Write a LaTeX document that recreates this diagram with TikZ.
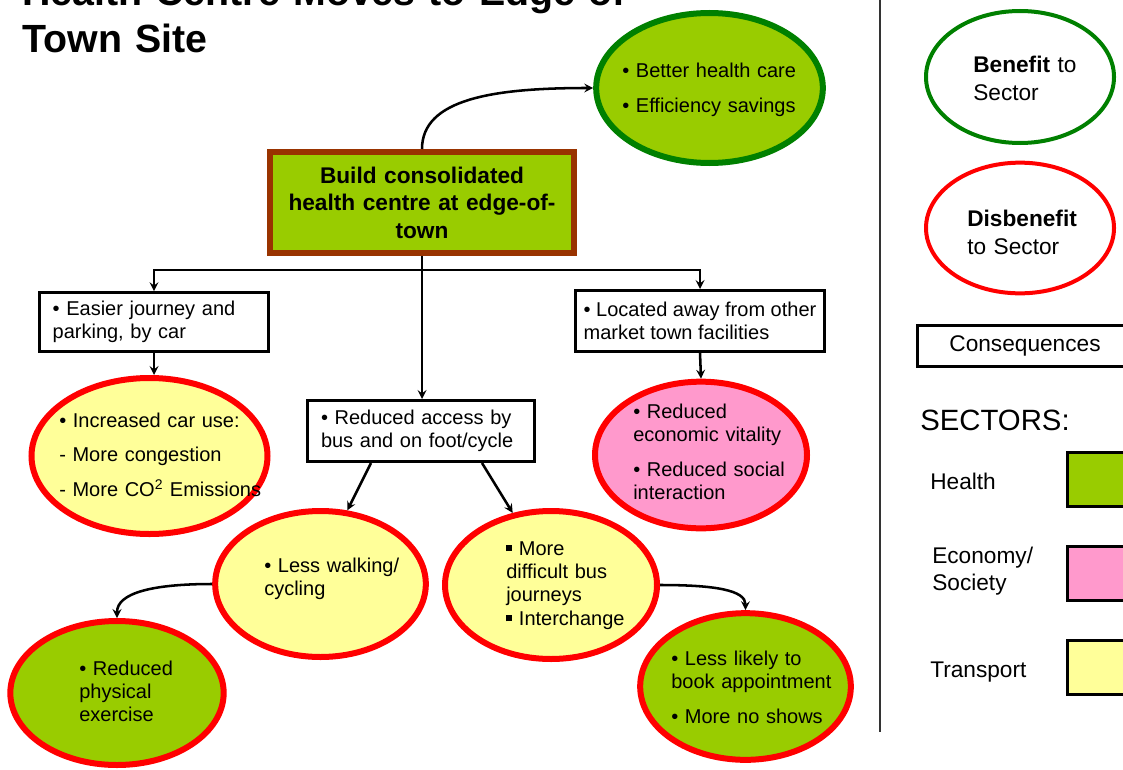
\documentclass[tikz,border=0pt]{standalone}
\usepackage{fontspec}
\setmainfont{Liberation Sans}
\usetikzlibrary{shapes.geometric,calc}

\definecolor{hgreen}{HTML}{99CC00}
\definecolor{bgreen}{HTML}{008000}
\definecolor{dred}{HTML}{FF0000}
\definecolor{tyellow}{HTML}{FFFF99}
\definecolor{epink}{HTML}{FF99CC}
\definecolor{hbrown}{HTML}{993300}

\newcommand{\bodyfont}{\fontsize{15}{17.6}\selectfont}
\newcommand{\keyfont}{\fontsize{17}{21}\selectfont}
\newcommand{\sqbullet}{\rule[0.2em]{0.3em}{0.3em}}

\tikzstyle{conseq} = [rectangle, draw=black, line width=2.25pt, fill=white, inner xsep=10pt, inner ysep=0pt, align=left, font=\bodyfont]
\tikzstyle{benefit} = [ellipse, draw=bgreen, line width=4.5pt, inner sep=0pt]
\tikzstyle{disben} = [ellipse, draw=dred, line width=4.5pt, inner sep=0pt]
\tikzstyle{txt} = [anchor=base west, inner sep=0pt, align=left, text width=200pt, font=\bodyfont]
\tikzstyle{keytxt} = [anchor=base west, inner sep=0pt, align=left, text width=120pt, font=\keyfont]
\tikzstyle{swatch} = [rectangle, draw=black, line width=2.25pt, minimum width=52pt, minimum height=40.5pt]
\tikzstyle{arrow} = [line width=1.9pt,->,>=stealth]

\begin{document}
\begin{tikzpicture}[x=0.75pt,y=-0.75pt]
	\useasboundingbox (0,0) rectangle (1123,770);
	% title
	\node (title) at (22,6) [anchor=base west, inner sep=0pt, align=left, text width=700pt, font=\fontsize{29.5}{35}\selectfont\bfseries] {Health Centre Moves to Edge-of\\Town Site};

	% option and its consequences
	\node (hc) at (422,202.5) [rectangle, draw=hbrown, line width=4.5pt, fill=hgreen, minimum width=228pt, minimum height=75.75pt, inner sep=0pt, align=center, text width=215pt, font=\fontsize{17}{20.6}\selectfont\bfseries] {Build consolidated\\health centre at edge-of-\\town};
	\node (easy) at (154,322) [conseq, text width=152pt, minimum height=44pt] {• Easier journey and\\parking, by car};
	\node (away) at (700,321) [conseq, inner xsep=4pt, minimum width=187pt, minimum height=45.75pt] {• Located away from other\\market town facilities};
	\node (access) at (421,431) [conseq, text width=150pt, minimum height=45.75pt] {• Reduced access by\\bus and on foot/cycle};

	% impacts
	\node (better) at (709.5,88) [benefit, fill=hgreen, minimum width=170pt, minimum height=112.5pt] {};
	\node (better-t) at (622,78) [txt] {• Better health care\\[8.5pt]• Efficiency savings};
	\node (caruse) at (149.5,456) [disben, fill=tyellow, minimum width=177pt, minimum height=117pt] {};
	\node (caruse-t) at (59,427) [txt] {• Increased car use:\\[8.5pt]- More congestion\\[8.5pt]- More CO\textsuperscript{2} Emissions};
	\node (econ) at (701,455) [disben, fill=epink, minimum width=159pt, minimum height=110pt] {};
	\node (econ-t) at (633,418) [txt] {• Reduced\\economic vitality\\[8.5pt]• Reduced social\\interaction};
	\node (walking) at (320.5,584) [disben, fill=tyellow, minimum width=158pt, minimum height=109.5pt] {};
	\node (walking-t) at (264,572) [txt] {• Less walking/\\cycling};
	\node (busjourney) at (551,585) [disben, fill=tyellow, minimum width=159pt, minimum height=111pt] {};
	\node (busjourney-t) at (506,555) [txt] {\sqbullet{} More\\difficult bus\\journeys\\\sqbullet{} Interchange};
	\node (exercise) at (117,693) [disben, fill=hgreen, minimum width=160pt, minimum height=108pt] {};
	\node (exercise-t) at (79,675) [txt] {• Reduced\\physical\\exercise};
	\node (appoint) at (745.5,686.5) [disben, fill=hgreen, minimum width=158pt, minimum height=110pt] {};
	\node (appoint-t) at (671,665) [txt] {• Less likely to\\book appointment\\[8.5pt]• More no shows};

	% connectors
	\coordinate (split) at (hc.south |- 0,270);
	\draw[arrow] (hc.north) .. controls +(0,-50) and +(-100,0) .. (better.west);
	\draw[arrow] (hc.south) -- (hc.south |- access.north);
	\draw[arrow] (split) -| (easy.north);
	\draw[arrow] (split) -| (away.north);
	\draw[arrow] (easy.south) -- (easy.south |- caruse.north);
	\draw[arrow] (away.south) -- (econ.north);
	\draw[arrow] ($(access.south)+(-50,0)$) -- (walking.70);
	\draw[arrow] ($(access.south)+(61,0)$) -- (busjourney.118);
	\draw[arrow] (walking.west) .. controls +(-60,0) and +(0,-25) .. (exercise.north);
	\draw[arrow] (busjourney.east) .. controls +(55,0) and +(0,-20) .. (appoint.north);

	% key
	\draw[line width=1.5pt, black!80] (880,-5) -- (880,732);
	\node (keyben) at (1020,77) [ellipse, draw=bgreen, line width=3pt, fill=white, minimum width=141pt, minimum height=99pt, inner sep=0pt] {};
	\node (keyben-t) at (973,73) [keytxt] {\textbf{Benefit} to\\Sector};
	\node (keydis) at (1020,228) [ellipse, draw=dred, line width=3pt, fill=white, minimum width=141pt, minimum height=98pt, inner sep=0pt] {};
	\node (keydis-t) at (967,226) [keytxt] {\textbf{Disbenefit}\\to Sector};
	\node (keycons) at (1025,346) [rectangle, draw=black, line width=2.25pt, minimum width=161pt, minimum height=31pt, font=\keyfont] {Consequences};
	\node (sectors) at (920,430) [anchor=base west, inner sep=0pt, font=\fontsize{22}{26}\selectfont] {SECTORS:};
	\node (health) at (930,489) [keytxt] {Health};
	\node (economy) at (932,563) [keytxt, font=\fontsize{17}{20.25}\selectfont] {Economy/\\Society};
	\node (transport) at (930,677) [keytxt] {Transport};
	\node (health-s) at (1102,479.5) [swatch, fill=hgreen] {};
	\node (economy-s) at (1102,573.5) [swatch, fill=epink] {};
	\node (transport-s) at (1102,667) [swatch, fill=tyellow] {};
\end{tikzpicture}
\end{document}
